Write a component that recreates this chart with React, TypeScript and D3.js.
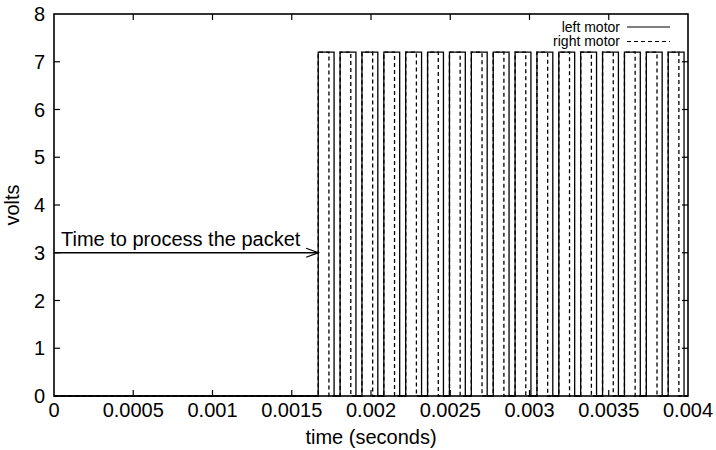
import React, { useEffect, useRef } from "react";
import * as d3 from "d3";

const xTicks = [0, 0.0005, 0.001, 0.0015, 0.002, 0.0025, 0.003, 0.0035, 0.004];
const xTickLabels = ["0", "0.0005", "0.001", "0.0015", "0.002", "0.0025", "0.003", "0.0035", "0.004"];
const yTicks = [0, 1, 2, 3, 4, 5, 6, 7, 8];
// pulse start times (seconds)
const pulseStarts = [
  0.001667, 0.001805, 0.001943, 0.002081, 0.002219, 0.002357, 0.002495, 0.002633, 0.002771,
  0.002909, 0.003047, 0.003185, 0.003323, 0.003461, 0.003599, 0.003737, 0.003875,
];
const pulseVoltage = 7.2;
const leftMotorWidth = 0.0001; // seconds high
const rightMotorWidth = 0.0000675;
const annotationVolts = 3;
const annotationText = "Time to process the packet";
const seriesNames = ["left motor", "right motor"];

const W = 716, H = 450;
const M = { left: 54, right: 28, top: 14, bottom: 54 };
const FONT = "'Liberation Sans', Arial, Helvetica, sans-serif";

function buildSeries(width: number): [number, number][] {
  const pts: [number, number][] = [[0, 0]];
  for (const s of pulseStarts) {
    pts.push([s, 0], [s, pulseVoltage], [s + width, pulseVoltage], [s + width, 0]);
  }
  pts.push([0.004, 0]);
  return pts;
}

export default function App() {
  const ref = useRef<SVGSVGElement>(null);
  useEffect(() => {
    const svg = d3.select(ref.current);
    svg.selectAll("*").remove();
    const x = d3.scaleLinear().domain([0, 0.004]).range([M.left, W - M.right]);
    const y = d3.scaleLinear().domain([0, 8]).range([H - M.bottom, M.top]);
    const line = d3.line<[number, number]>().x((d) => x(d[0])).y((d) => y(d[1]));

    const g = svg.append("g");
    // series
    g.append("path").attr("d", line(buildSeries(rightMotorWidth))!).attr("fill", "none")
      .attr("stroke", "#000").attr("stroke-width", 1.3).attr("stroke-dasharray", "4,3");
    g.append("path").attr("d", line(buildSeries(leftMotorWidth))!).attr("fill", "none")
      .attr("stroke", "#000").attr("stroke-width", 1.3);

    // ticks inward
    const tl = 6;
    yTicks.forEach((t) => {
      if (t === 0 || t === 8) return;
      g.append("line").attr("x1", x(0)).attr("x2", x(0) + tl).attr("y1", y(t)).attr("y2", y(t)).attr("stroke", "#000").attr("stroke-width", 1.2);
      g.append("line").attr("x1", x(0.004)).attr("x2", x(0.004) - tl).attr("y1", y(t)).attr("y2", y(t)).attr("stroke", "#000").attr("stroke-width", 1.2);
    });
    xTicks.forEach((t) => {
      if (t === 0 || t === 0.004) return;
      g.append("line").attr("x1", x(t)).attr("x2", x(t)).attr("y1", y(0)).attr("y2", y(0) - tl).attr("stroke", "#000").attr("stroke-width", 1.2);
      g.append("line").attr("x1", x(t)).attr("x2", x(t)).attr("y1", y(8)).attr("y2", y(8) + tl).attr("stroke", "#000").attr("stroke-width", 1.2);
    });
    // frame
    g.append("rect").attr("x", x(0)).attr("y", y(8)).attr("width", x(0.004) - x(0)).attr("height", y(0) - y(8))
      .attr("fill", "none").attr("stroke", "#000").attr("stroke-width", 1.6);

    const FS = 20;
    // tick labels
    yTicks.forEach((t) => {
      g.append("text").attr("x", x(0) - 9).attr("y", y(t)).attr("dy", "0.36em").attr("text-anchor", "end")
        .attr("font-family", FONT).attr("font-size", FS).text(String(t));
    });
    xTicks.forEach((t, i) => {
      g.append("text").attr("x", x(t)).attr("y", y(0) + 21).attr("text-anchor", "middle")
        .attr("font-family", FONT).attr("font-size", FS).text(xTickLabels[i]);
    });
    // axis titles
    g.append("text").attr("x", (x(0) + x(0.004)) / 2).attr("y", 444).attr("text-anchor", "middle")
      .attr("font-family", FONT).attr("font-size", FS).text("time (seconds)");
    g.append("text").attr("transform", `translate(19,${(y(0) + y(8)) / 2}) rotate(-90)`).attr("text-anchor", "middle")
      .attr("font-family", FONT).attr("font-size", FS).text("volts");

    // annotation arrow
    const ax0 = x(0), ax1 = x(pulseStarts[0]), ay = y(annotationVolts);
    g.append("line").attr("x1", ax0).attr("x2", ax1).attr("y1", ay).attr("y2", ay).attr("stroke", "#000").attr("stroke-width", 1.3);
    g.append("path").attr("d", `M${ax1 - 12},${ay - 4.5}L${ax1},${ay}L${ax1 - 12},${ay + 4.5}`)
      .attr("fill", "none").attr("stroke", "#000").attr("stroke-width", 1.3);
    g.append("text").attr("x", x(0) + 7).attr("y", ay - 7).attr("font-family", FONT).attr("font-size", FS).text(annotationText);

    // legend
    const lx = 620;
    const ly = [27, 41.5];
    seriesNames.forEach((n, i) => {
      g.append("text").attr("x", lx).attr("y", ly[i]).attr("dy", "0.35em").attr("text-anchor", "end")
        .attr("font-family", FONT).attr("font-size", 14).text(n);
      g.append("line").attr("x1", lx + 7).attr("x2", lx + 50).attr("y1", ly[i]).attr("y2", ly[i])
        .attr("stroke", "#000").attr("stroke-width", 1.2).attr("stroke-dasharray", i === 1 ? "4,3" : null);
    });
  }, []);
  return (
    <svg ref={ref} width={W} height={H} style={{ position: "absolute", left: 0, top: 0, background: "#fff" }} />
  );
}
